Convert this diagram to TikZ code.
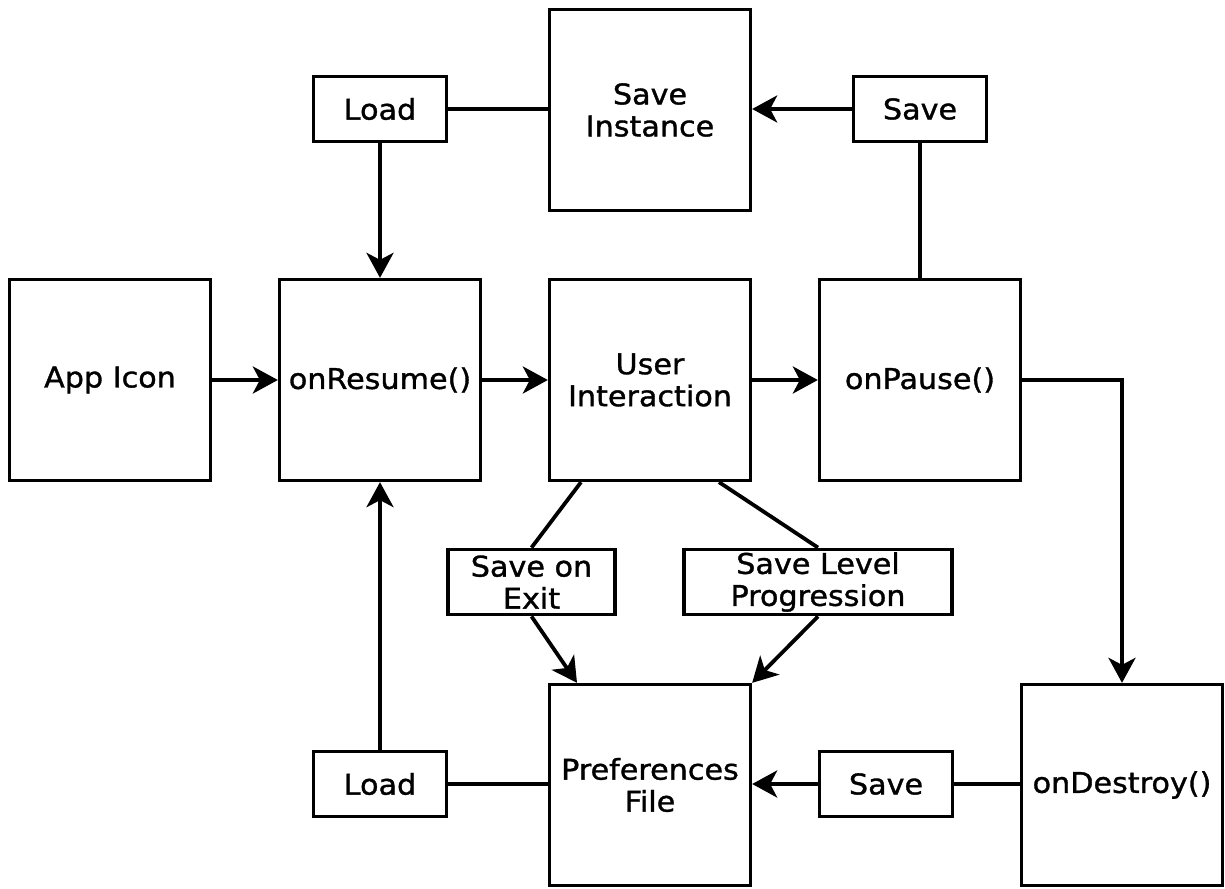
\documentclass[tikz,border=0pt]{standalone}
\usepackage{fontspec}
\setmainfont{DejaVu Sans}[FakeStretch=1.06,FakeBold=1.2]
\usetikzlibrary{arrows.meta}
\begin{document}
\begin{tikzpicture}[x=1pt,y=-1pt,
  box/.style={draw, line width=3.3pt, inner sep=0pt, align=center, font=\fontsize{28.5pt}{32pt}\selectfont},
  bigbox/.style={box, minimum width=201pt, minimum height=201pt},
  smallbox/.style={box, minimum height=65.5pt},
  conn/.style={line width=3.8pt},
  arr/.style={conn, -{Stealth[length=25pt 0 0,width=27pt 0,inset=7pt 0]}}
]
\useasboundingbox (0,0) rectangle (1225,888);
\node[bigbox] (app) at (110,380) {App Icon};
\node[bigbox] (res) at (380,380) {onResume()};
\node[bigbox] (ui) at (650,380) {User\\Interaction};
\node[bigbox] (pause) at (920,380) {onPause()};
\node[bigbox] (inst) at (650,110) {Save\\Instance};
\node[bigbox] (pref) at (650,785) {Preferences\\File};
\node[bigbox] (dest) at (1122,785) {onDestroy()};
\node[smallbox, minimum width=133.5pt] (loadT) at (380,109) {Load};
\node[smallbox, minimum width=133.5pt] (saveT) at (920,109) {Save};
\node[smallbox, minimum width=133.5pt] (loadB) at (380,784) {Load};
\node[smallbox, minimum width=133.5pt] (saveB) at (886,784) {Save};
\node[smallbox, minimum width=167pt] (soe) at (531.5,582) {Save on\\Exit};
\node[smallbox, minimum width=268pt] (slp) at (818,582) {Save Level\\Progression};

\draw[conn] (loadT.east) -- (loadT.east -| inst.west);
\draw[arr] (saveT.west) -- (saveT.west -| inst.east);
\draw[arr] (loadT.south) -- (res.north);
\draw[conn] (saveT.south) -- (pause.north);
\draw[arr] (app) -- (res);
\draw[arr] (res) -- (ui);
\draw[arr] (ui) -- (pause);
\draw[arr] (pause.east) -| (dest.north);
\draw[conn] (saveB.east) -- (saveB.east -| dest.west);
\draw[arr] (saveB.west) -- (saveB.west -| pref.east);
\draw[conn] (loadB.east) -- (loadB.east -| pref.west);
\draw[arr] (loadB.north) -- (res.south);
\draw[conn] ([xshift=-69pt]ui.south) -- (soe.north);
\draw[conn] ([xshift=69pt]ui.south) -- (slp.north);
\draw[arr] (soe.south) -- ([xshift=-73pt]pref.north);
\draw[arr] (slp.south) -- (pref.north east);
\end{tikzpicture}
\end{document}
